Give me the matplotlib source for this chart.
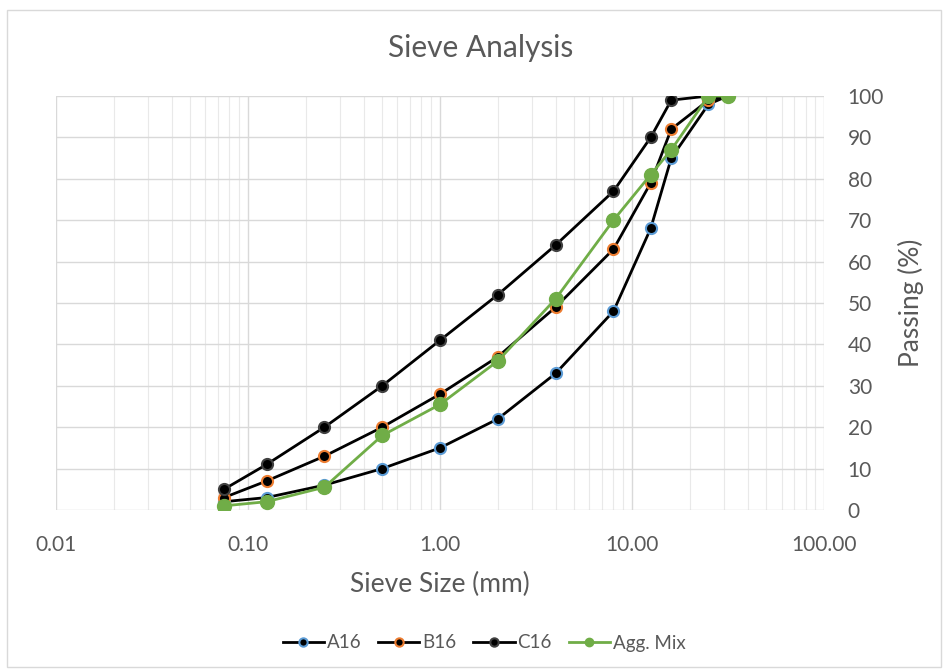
import numpy as np
import matplotlib.pyplot as plt
from matplotlib.patches import Rectangle
from matplotlib.ticker import FixedLocator, NullFormatter

# sieve openings (mm) and percent passing for each grading
sieve = [0.075, 0.125, 0.25, 0.5, 1.0, 2.0, 4.0, 8.0, 12.5, 16.0, 25.0, 31.5]
a16 = [2, 3, 6, 10, 15, 22, 33, 48, 68, 85, 98, 100]
b16 = [3, 7, 13, 20, 28, 37, 49, 63, 79, 92, 99, 100]
c16 = [5, 11, 20, 30, 41, 52, 64, 77, 90, 99, 100, 100]
mix = [1, 2, 5.5, 18, 25.5, 36, 51, 70, 81, 87, 100, 100]

x_ticks = [0.01, 0.1, 1, 10, 100]
x_labels = ["0.01", "0.10", "1.00", "10.00", "100.00"]
y_ticks = list(range(0, 101, 10))

plt.rcParams['font.family'] = ['Lato', 'DejaVu Sans']
grey = "#595959"

fig = plt.figure(figsize=(9.44, 6.69), dpi=100)
fig.patches.append(Rectangle((0.007, 0.003), 0.99, 0.982, transform=fig.transFigure,
                             fill=False, edgecolor="#d9d9d9", linewidth=1.0))
ax = fig.add_axes([0.0593, 0.2377, 0.8137, 0.6188])

ax.plot(sieve, a16, color="black", lw=2, marker="o", ms=8,
        mfc="black", mec="#5B9BD5", mew=1.5, label="A16", zorder=3)
ax.plot(sieve, b16, color="black", lw=2, marker="o", ms=8,
        mfc="black", mec="#ED7D31", mew=1.5, label="B16", zorder=3)
ax.plot(sieve, c16, color="black", lw=2, marker="o", ms=8,
        mfc="black", mec="#404040", mew=1.5, label="C16", zorder=3)
ax.plot(sieve, mix, color="#70AD47", lw=2, marker="o", ms=10,
        mfc="#70AD47", mec="#70AD47", label="Agg. Mix", zorder=4)

ax.set_xscale("log")
ax.set_xlim(0.01, 100)
ax.set_ylim(0, 100)
ax.set_xticks(x_ticks)
ax.set_xticklabels(x_labels)
minor = [m * 10.0 ** e for e in range(-2, 2) for m in range(2, 10)]
ax.xaxis.set_minor_locator(FixedLocator(minor))
ax.xaxis.set_minor_formatter(NullFormatter())
ax.set_yticks(y_ticks)

ax.yaxis.tick_right()
ax.yaxis.set_label_position("right")
ax.tick_params(axis="both", which="both", length=0, labelsize=15, labelcolor=grey)
ax.tick_params(axis="x", pad=18)
ax.tick_params(axis="y", pad=17)
for lbl in ax.get_yticklabels():
    lbl.set_horizontalalignment("left")

ax.grid(which="major", color="#d9d9d9", lw=1)
ax.grid(which="minor", axis="x", color="#e9e9e9", lw=0.8)
ax.set_axisbelow(True)
for s in ax.spines.values():
    s.set_visible(False)

fig.text(481 / 944, 1 - 48 / 669, "Sieve Analysis", fontsize=21.5, color=grey,
         ha="center", va="center")
ax.set_xlabel("Sieve Size (mm)", fontsize=19, color=grey, labelpad=12)
ax.set_ylabel("Passing (%)", fontsize=19, color=grey, labelpad=10)

leg = fig.legend(loc="center", bbox_to_anchor=(484 / 944, 1 - 643 / 669), ncol=4,
                 frameon=False, fontsize=13.5, labelcolor=grey, handlelength=2.2,
                 columnspacing=0.9, handletextpad=0.15)
for h in leg.legend_handles:
    h.set_markersize(6)

fig.savefig("out.png", dpi=100)
